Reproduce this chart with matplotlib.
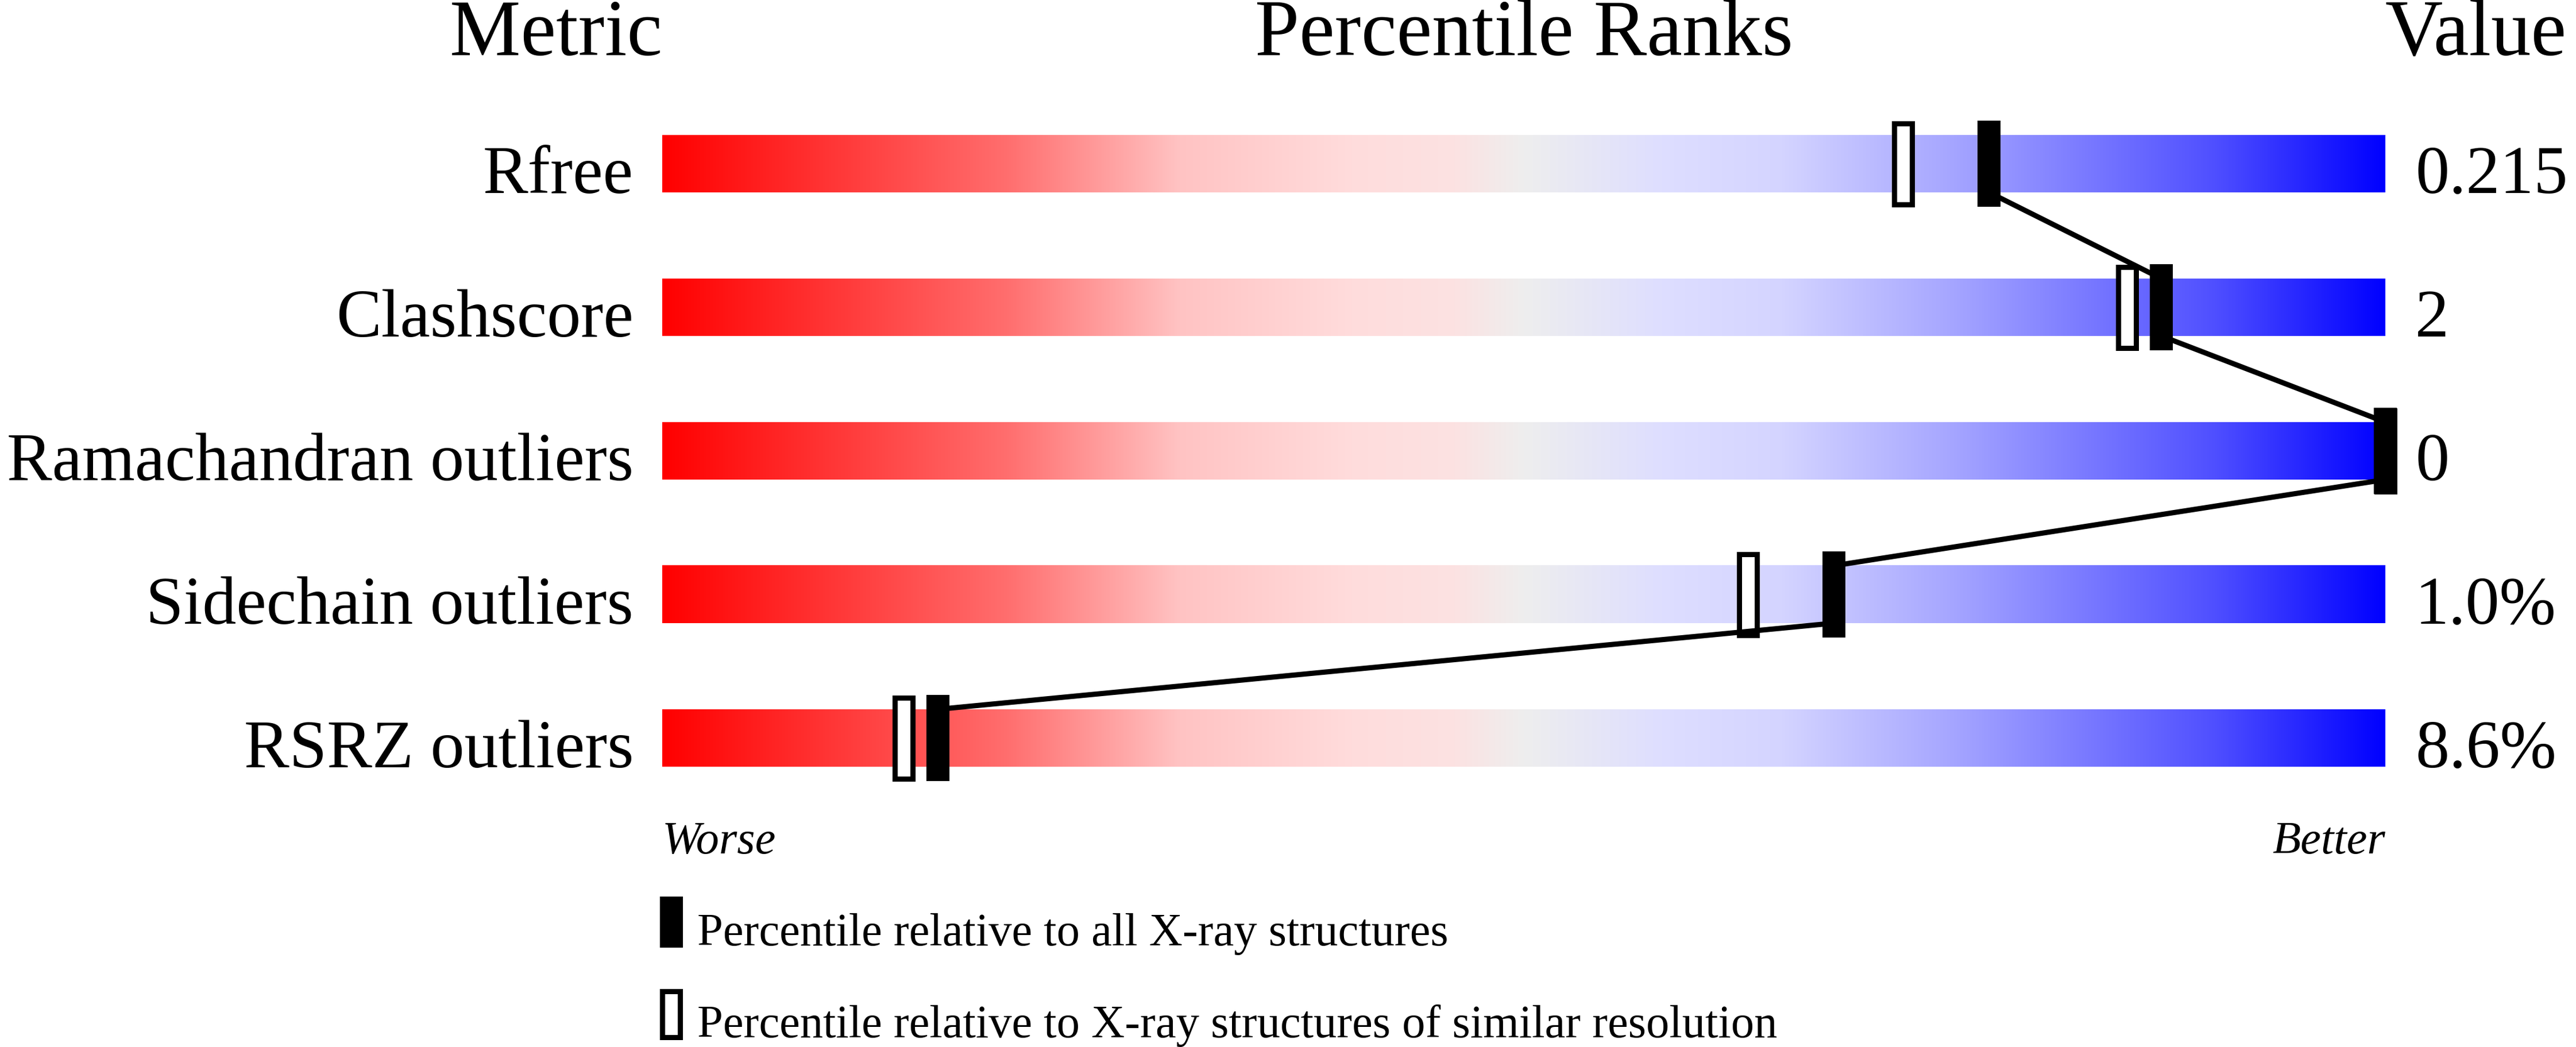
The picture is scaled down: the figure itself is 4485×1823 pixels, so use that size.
import numpy as np
import matplotlib
matplotlib.use("Agg")
import matplotlib.pyplot as plt
from matplotlib.patches import Rectangle

plt.rcParams['font.family'] = ['Liberation Serif', 'DejaVu Serif']

# data
metrics = ["Rfree", "Clashscore", "Ramachandran outliers", "Sidechain outliers", "RSRZ outliers"]
values = ["0.215", "2", "0", "1.0%", "8.6%"]
pct_all = [77, 87, 100, 68, 16]        # percentile vs all X-ray structures (filled)
pct_similar = [72, 85, 100, 63, 14]    # percentile vs similar resolution (open)

# gradient stops (position along bar, rgb)
grad_pos = [0.0, 0.20, 0.30, 0.40, 0.46, 0.50, 0.58, 0.65, 0.75, 0.90, 1.0]
grad_rgb = [(255, 0, 0), (255, 110, 110), (255, 195, 195), (255, 220, 220),
            (252, 226, 226), (238, 238, 238), (222, 222, 255), (212, 212, 255),
            (165, 165, 255), (80, 80, 255), (0, 0, 255)]

# layout in pixels
W, H = 4485, 1824
X0, X1 = 1153, 4153       # bar left/right
ppu = (X1 - X0) / 100.0   # px per percentile
Y0, DY = 286, 250         # first row centre, row spacing


def to_data(x, y):
    return (x - X0) / ppu, (y - Y0) / DY


fig = plt.figure(figsize=(W / 100, H / 100), dpi=100)
ax = fig.add_axes([0, 0, 1, 1])
ax.set_xlim(-X0 / ppu, (W - X0) / ppu)
ax.set_ylim((H - Y0) / DY, -Y0 / DY)
ax.axis('off')

t = np.linspace(0, 1, 1500)
grad = np.stack([np.interp(t, grad_pos, [c[k] for c in grad_rgb]) for k in range(3)], axis=-1) / 255.0
grad = grad[np.newaxis, :, :]

bar_h = 100 / DY
mk_w = 40 / ppu
mk_h = 150 / DY
edge_px = 9
lw_pt = edge_px * 72 / 100

for i, name in enumerate(metrics):
    ax.imshow(grad, extent=[0, 100, i + bar_h / 2, i - bar_h / 2], aspect='auto',
              interpolation='bilinear', zorder=1)
    # open marker
    ow = mk_w - edge_px / ppu
    oh = mk_h - edge_px / DY
    ax.add_patch(Rectangle((pct_similar[i] - ow / 2, i - oh / 2), ow, oh,
                           facecolor='white', edgecolor='black', lw=lw_pt, zorder=2))
    # filled marker
    ax.add_patch(Rectangle((pct_all[i] - mk_w / 2, i - mk_h / 2), mk_w, mk_h,
                           facecolor='black', edgecolor='none', zorder=4))
    lx, _ = to_data(1103, 0)
    ax.text(lx, i + bar_h / 2, name, ha='right', va='baseline', fontsize=85)
    vx, _ = to_data(4205, 0)
    ax.text(vx, i + bar_h / 2, values[i], ha='left', va='baseline', fontsize=85)

# connecting line between filled markers
for i in range(len(metrics) - 1):
    ax.plot([pct_all[i], pct_all[i + 1]], [i + bar_h / 2, i + 1 - bar_h / 2],
            color='black', lw=6.5, solid_capstyle='butt', zorder=3)

# headers
ty = to_data(0, 96)[1]
ax.text(0, ty, "Metric", ha='right', va='baseline', fontsize=100)
ax.text(50, ty, "Percentile Ranks", ha='center', va='baseline', fontsize=100)
ax.text(100, ty, "Value", ha='left', va='baseline', fontsize=100)

wy = to_data(0, 1486)[1]
ax.text(0, wy, "Worse", ha='left', va='baseline', fontsize=58, style='italic')
ax.text(100, wy, "Better", ha='right', va='baseline', fontsize=58, style='italic')

# legend
lgx, _ = to_data(1148.5, 0)
_, ly1 = to_data(0, 1562)
_, ly2 = to_data(0, 1722)
leg_h = 89 / DY
ax.add_patch(Rectangle((lgx, ly1), mk_w, leg_h, facecolor='black', edgecolor='none'))
ax.add_patch(Rectangle((lgx + edge_px / 2 / ppu, ly2 + edge_px / 2 / DY),
                       mk_w - edge_px / ppu, leg_h - edge_px / DY,
                       facecolor='white', edgecolor='black', lw=lw_pt))
tx, _ = to_data(1214, 0)
ax.text(tx, to_data(0, 1646)[1], "Percentile relative to all X-ray structures",
        ha='left', va='baseline', fontsize=58)
ax.text(tx, to_data(0, 1806)[1], "Percentile relative to X-ray structures of similar resolution",
        ha='left', va='baseline', fontsize=58)

fig.savefig("out.png", dpi=100, facecolor='white')
